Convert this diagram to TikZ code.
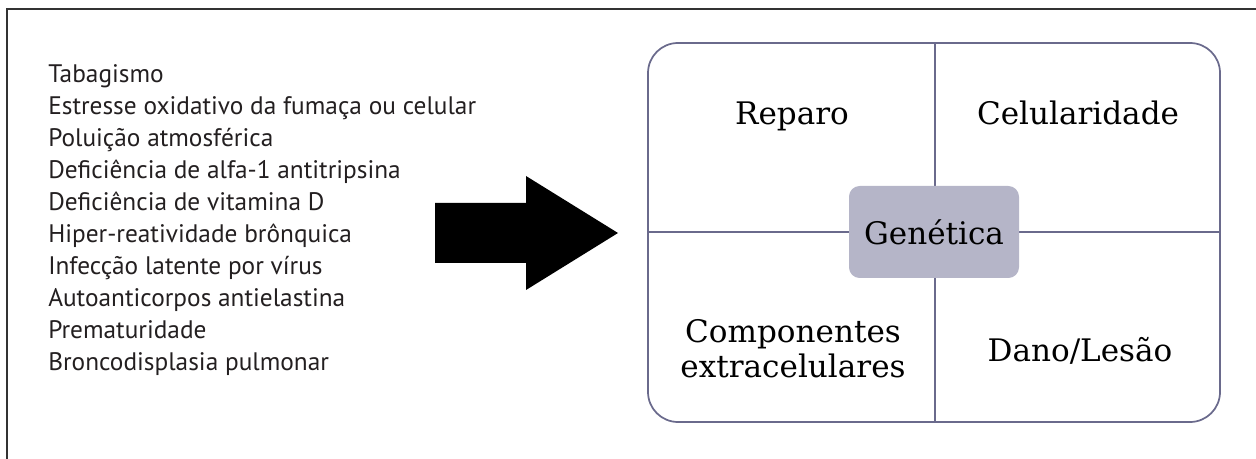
\documentclass[tikz,border=0pt]{standalone}
\usepackage{fontspec}
\setmainfont{DejaVu Serif}
\newfontfamily\listfont{PT Sans}
\definecolor{frame}{HTML}{333333}
\definecolor{boxline}{HTML}{6A6A8C}
\definecolor{genfill}{HTML}{B5B5C8}
\definecolor{listtext}{HTML}{231F20}
\tikzset{
  listitem/.style={anchor=base west, inner sep=0pt, font=\listfont\fontsize{19pt}{23pt}\selectfont, text=listtext},
  quad/.style={inner sep=0pt, font=\fontsize{23.3pt}{26.5pt}\selectfont, align=center},
  divider/.style={draw=boxline, line width=1.1pt},
}
\begin{document}
\begin{tikzpicture}[x=0.75pt,y=-0.75pt]
\useasboundingbox (0,0) rectangle (1256,459);
% outer frame (top and left only)
\draw[frame, line width=1.9pt] (1256,9) -- (7,9) -- (7,459);
% list
\foreach \t [count=\i from 0] in {Tabagismo,
  Estresse oxidativo da fumaça ou celular,
  Poluição atmosférica,
  Deficiência de alfa-1 antitripsina,
  Deficiência de vitamina D,
  Hiper-reatividade brônquica,
  Infecção latente por vírus,
  Autoanticorpos antielastina,
  Prematuridade,
  Broncodisplasia pulmonar}
  \node[listitem] (l\i) at (48,{83+31.9*\i}) {\t};
% big arrow
\fill[black] (435,203) -- (526,203) -- (526,176) -- (618,233) -- (526,290) -- (526,263) -- (435,263) -- cycle;
% rounded box
\draw[draw=boxline, line width=1.3pt, rounded corners=30*0.75pt] (648,43) rectangle (1220,422);
\coordinate (vt) at (935,43);
\coordinate (vb) at (935,422);
\coordinate (hl) at (648,232);
\coordinate (hr) at (1220,232);
\draw[divider] (vt) -- (vb);
\draw[divider] (hl) -- (hr);
% genetica
\node[quad, fill=genfill, rounded corners=8pt, minimum width=170*0.75pt, minimum height=92*0.75pt] (gen) at (934,232) {Genética};
% quadrant labels
\node[quad, anchor=base] (rep) at (792,125) {Reparo};
\node[quad, anchor=base] (cel) at (1078,125) {Celularidade};
\node[quad, anchor=base] (comp1) at (793,343) {Componentes};
\node[quad, anchor=base] (comp2) at (793,378) {extracelulares};
\node[quad, anchor=base] (dano) at (1080,362) {Dano/Lesão};
\end{tikzpicture}
\end{document}
